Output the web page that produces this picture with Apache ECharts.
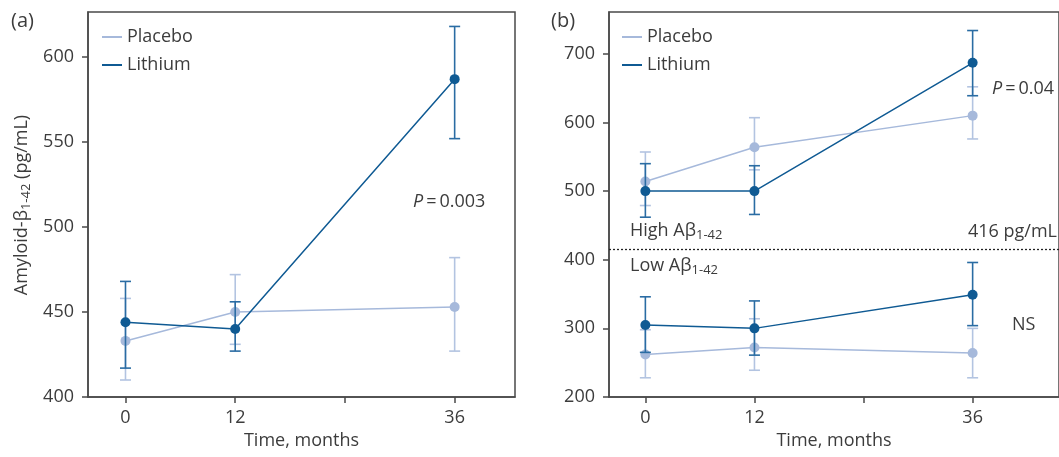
<!DOCTYPE html>
<html>
<head>
    <meta charset="UTF-8">
    <title>Amyloid-β1-42, placebo vs lithium</title>
    <style type="text/css">
        html, body{margin:0;padding:0;background:#fff;}
        #myChart{width:1059px;height:457px;}
    </style>
</head>
<body>
<div id="myChart"></div>

<script src="https://cdn.jsdelivr.net/npm/echarts@6/dist/echarts.min.js"></script>
<script type="text/javascript">
    // time points (months)
    var months = [0, 12, 36];
    var xTicks = [0, 12, 24, 36];
    var xLabels = [0, 12, 36];

    // panel (a): all patients
    var aPlacebo = [433, 450, 453];
    var aPlaceboLo = [410, 431, 427];
    var aPlaceboHi = [458, 472, 482];
    var aLithium = [444, 440, 587];
    var aLithiumLo = [417, 427, 552];
    var aLithiumHi = [468, 456, 618];
    var aTicks = [400, 450, 500, 550, 600];

    // panel (b): split at 416 pg/mL
    var highPlacebo = [514, 564, 610];
    var highPlaceboLo = [479, 531, 576];
    var highPlaceboHi = [557, 607, 652];
    var highLithium = [500, 500, 687];
    var highLithiumLo = [462, 466, 639];
    var highLithiumHi = [540, 537, 734];
    var lowPlacebo = [262, 272, 264];
    var lowPlaceboLo = [228, 239, 228];
    var lowPlaceboHi = [298, 314, 300];
    var lowLithium = [305, 300, 349];
    var lowLithiumLo = [265, 261, 304];
    var lowLithiumHi = [346, 340, 396];
    var bTicks = [200, 300, 400, 500, 600, 700];
    var cutoff = 416;

    var cPlacebo = '#a6b9db';
    var cLithium = '#0f5a93';
    var cLithiumBar = '#2a6ca3';
    var cPlaceboBar = '#b3c4e1';
    var cAxis = '#4a4a4a';
    var cText = '#3c3c3c';
    var font = '"Open Sans", "Noto Sans", sans-serif';

    function pairs(vals) {
        return months.map(function (m, i) { return [m, vals[i]]; });
    }
    function bars(lo, hi) {
        return months.map(function (m, i) { return [m, lo[i], hi[i]]; });
    }

    // error bars: vertical line with caps
    function errorItem(color) {
        return function (params, api) {
            var x = api.value(0);
            var top = api.coord([x, api.value(2)]);
            var bot = api.coord([x, api.value(1)]);
            var w = 5.5;
            var st = {stroke: color, lineWidth: 1.6};
            return {
                type: 'group',
                children: [
                    {type: 'line', shape: {x1: top[0], y1: top[1], x2: bot[0], y2: bot[1]}, style: st},
                    {type: 'line', shape: {x1: top[0] - w, y1: top[1], x2: top[0] + w, y2: top[1]}, style: st},
                    {type: 'line', shape: {x1: bot[0] - w, y1: bot[1], x2: bot[0] + w, y2: bot[1]}, style: st}
                ]
            };
        };
    }
    function errSeries(idx, lo, hi, color, z) {
        return {
            type: 'custom', xAxisIndex: idx, yAxisIndex: idx, z: z,
            renderItem: errorItem(color), data: bars(lo, hi), silent: true
        };
    }
    function lineSeries(idx, name, vals, color, z) {
        return {
            type: 'line', name: name, xAxisIndex: idx, yAxisIndex: idx, z: z,
            data: pairs(vals), color: color,
            symbol: 'circle', symbolSize: 10,
            itemStyle: {color: color},
            lineStyle: {color: color, width: 1.5},
            animation: false
        };
    }

    function xAxis(idx, min, max) {
        return {
            type: 'value', gridIndex: idx, min: min, max: max,
            name: 'Time, months', nameLocation: 'middle', nameGap: 35,
            nameTextStyle: {fontFamily: font, fontSize: 18, color: cText},
            axisLine: {show: true, onZero: false, lineStyle: {color: cAxis, width: 1.5}},
            axisTick: {show: true, customValues: xTicks, length: 6, lineStyle: {color: cAxis, width: 1.5}},
            axisLabel: {customValues: xLabels, margin: 12, fontFamily: font, fontSize: 18, color: cText},
            splitLine: {show: false}
        };
    }
    function yAxis(idx, min, max, ticks) {
        return {
            type: 'value', gridIndex: idx, min: min, max: max,
            axisLine: {show: true, onZero: false, lineStyle: {color: cAxis, width: 1.5}},
            axisTick: {show: true, customValues: ticks, length: 6, lineStyle: {color: cAxis, width: 1.5}},
            axisLabel: {customValues: ticks, margin: 14, fontFamily: font, fontSize: 18, color: cText},
            splitLine: {show: false}
        };
    }

    var rich = {
        sub: {fontFamily: font, fontSize: 13, color: cText, lineHeight: 10, verticalAlign: 'bottom'},
        it: {fontFamily: font, fontSize: 18, color: cText, fontStyle: 'italic', lineHeight: 22}
    };
    function label(x, y, text, align, size) {
        return {
            type: 'text', x: x, y: y, silent: true,
            style: {
                text: text, fill: cText, font: (size || 18) + 'px ' + font,
                align: align || 'left', verticalAlign: 'middle', lineHeight: 22, rich: rich
            }
        };
    }
    function legend(left) {
        return {
            left: left, top: 27, orient: 'vertical', itemGap: 8, padding: 0,
            icon: 'rect', itemWidth: 20, itemHeight: 2,
            textStyle: {fontFamily: font, fontSize: 18, color: cText, lineHeight: 20},
            data: ['Placebo', 'Lithium'], selectedMode: false
        };
    }

    var myChart = echarts.init(document.getElementById('myChart'), null, {renderer: 'canvas'});

    var option = {
        animation: false,
        grid: [
            {left: 88, top: 12, width: 427, height: 385, show: true, borderColor: cAxis, borderWidth: 1.5, containLabel: false},
            {left: 609, top: 12, width: 455, height: 385, show: true, borderColor: cAxis, borderWidth: 1.5, containLabel: false}
        ],
        xAxis: [xAxis(0, -4.1, 42.6), xAxis(1, -4, 45.5)],
        yAxis: [yAxis(0, 400, 626.5, aTicks), yAxis(1, 200, 761, bTicks)],
        legend: [legend(102), legend(622)],
        series: [
            // panel (a)
            errSeries(0, aPlaceboLo, aPlaceboHi, cPlaceboBar, 2),
            lineSeries(0, 'Placebo', aPlacebo, cPlacebo, 3),
            errSeries(0, aLithiumLo, aLithiumHi, cLithiumBar, 4),
            lineSeries(0, 'Lithium', aLithium, cLithium, 5),
            // panel (b)
            errSeries(1, highPlaceboLo, highPlaceboHi, cPlaceboBar, 2),
            lineSeries(1, 'Placebo', highPlacebo, cPlacebo, 3),
            errSeries(1, lowPlaceboLo, lowPlaceboHi, cPlaceboBar, 2),
            lineSeries(1, 'Placebo', lowPlacebo, cPlacebo, 3),
            errSeries(1, highLithiumLo, highLithiumHi, cLithiumBar, 4),
            lineSeries(1, 'Lithium', highLithium, cLithium, 5),
            errSeries(1, lowLithiumLo, lowLithiumHi, cLithiumBar, 4),
            (function () {
                var s = lineSeries(1, 'Lithium', lowLithium, cLithium, 5);
                s.markLine = {
                    silent: true, symbol: 'none', label: {show: false},
                    lineStyle: {color: '#222', width: 1.3, type: [2, 2]},
                    data: [{yAxis: cutoff}]
                };
                return s;
            })()
        ],
        graphic: [
            label(11, 21, '(a)', 'left', 20),
            label(551, 21, '(b)', 'left', 20),
            {
                type: 'text', x: 22, y: 205, rotation: Math.PI / 2, silent: true,
                style: {
                    text: 'Amyloid-β{sub|1-42} (pg/mL)', fill: cText, font: '18px ' + font,
                    align: 'center', verticalAlign: 'middle', lineHeight: 22, rich: rich
                }
            },
            label(413, 202, '{it|P}\u2009=\u20090.003'),
            label(992, 89, '{it|P}\u2009=\u20090.04'),
            label(1012, 325, 'NS'),
            label(1057, 232, '416 pg/mL', 'right'),
            label(630, 231, 'High Aβ{sub|1-42}'),
            label(630, 266, 'Low Aβ{sub|1-42}')
        ]
    };

    myChart.setOption(option);
</script>
</body>
</html>
